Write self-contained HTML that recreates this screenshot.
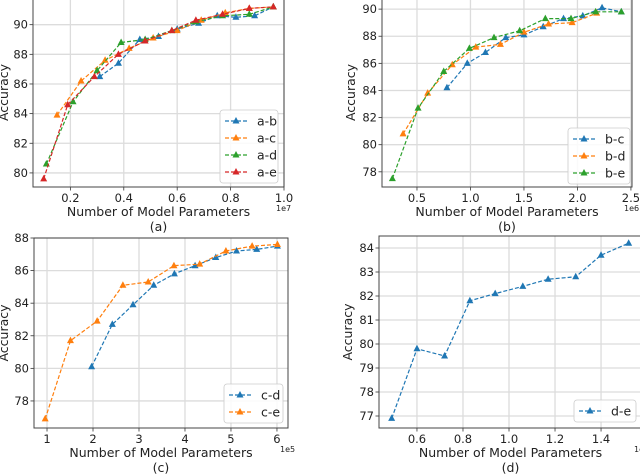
<!DOCTYPE html>
<html><head><meta charset="utf-8"><style>
html,body{margin:0;padding:0;background:#fff;}
svg{display:block;font-family:"DejaVu Sans","Liberation Sans",sans-serif;}
</style></head><body>
<svg id="c" width="640" height="475" viewBox="0 0 640 475" xmlns="http://www.w3.org/2000/svg"></svg>
<script>
// Panel (a) data (x in 1e7)
const aAbX=[0.31,0.38,0.46,0.53,0.60,0.68,0.75,0.82,0.89,0.96];
const aAbY=[86.5,87.4,89.0,89.2,89.7,90.1,90.6,90.5,90.6,91.2];
const aAcX=[0.15,0.24,0.33,0.42,0.51,0.60,0.69,0.78,0.87,0.96];
const aAcY=[83.9,86.2,87.6,88.4,89.1,89.6,90.3,90.8,91.1,91.2];
const aAdX=[0.11,0.21,0.30,0.39,0.48,0.58,0.67,0.77,0.87,0.96];
const aAdY=[80.6,84.8,86.9,88.8,89.0,89.6,90.2,90.6,90.7,91.2];
const aAeX=[0.10,0.19,0.29,0.38,0.48,0.58,0.67,0.77,0.87,0.96];
const aAeY=[79.6,84.6,86.5,88.0,88.9,89.6,90.3,90.7,91.1,91.2];
const aXTicks=[0.2,0.4,0.6,0.8,1.0];
const aYTicks=[80,82,84,86,88,90];
// Panel (b) data (x in 1e6)
const bBcX=[0.78,0.97,1.14,1.33,1.50,1.68,1.87,2.05,2.23,2.41];
const bBcY=[84.2,86.0,86.8,87.9,88.1,88.7,89.3,89.5,90.1,89.8];
const bBdX=[0.37,0.60,0.83,1.05,1.28,1.50,1.73,1.95,2.18];
const bBdY=[80.8,83.8,85.9,87.2,87.4,88.3,88.9,89.0,89.7];
const bBeX=[0.27,0.51,0.75,0.99,1.22,1.46,1.70,1.94,2.17,2.41];
const bBeY=[77.5,82.7,85.4,87.1,87.9,88.4,89.3,89.3,89.8,89.8];
const bXTicks=[0.5,1.0,1.5,2.0,2.5];
const bYTicks=[78,80,82,84,86,88,90];
// Panel (c) data (x in 1e5)
const cCdX=[1.97,2.42,2.87,3.32,3.77,4.22,4.67,5.12,5.56,6.01];
const cCdY=[80.1,82.7,83.9,85.1,85.8,86.3,86.8,87.2,87.3,87.5];
const cCeX=[0.96,1.51,2.09,2.65,3.20,3.76,4.32,4.89,5.46,6.01];
const cCeY=[76.9,81.7,82.9,85.1,85.3,86.3,86.4,87.2,87.5,87.6];
const cXTicks=[1,2,3,4,5,6];
const cYTicks=[78,80,82,84,86,88];
// Panel (d) data (x in 1e5)
const dDeX=[0.49,0.60,0.72,0.83,0.94,1.06,1.17,1.29,1.40,1.52];
const dDeY=[76.9,79.8,79.5,81.8,82.1,82.4,82.7,82.8,83.7,84.2];
const dXTicks=[0.6,0.8,1.0,1.2,1.4];
const dYTicks=[77,78,79,80,81,82,83,84];

const C={blue:'#1f77b4',orange:'#ff7f0e',green:'#2ca02c',red:'#d62728'};
const svg=document.getElementById('c');
const NS='http://www.w3.org/2000/svg';
function mk(tag,attrs,parent){const e=document.createElementNS(NS,tag);for(const k in attrs)e.setAttribute(k,attrs[k]);(parent||svg).appendChild(e);return e;}

function panel(p){
  const g=mk('g',{});
  
  
  const sx=v=>p.L+(v-p.x0)/(p.x1-p.x0)*(p.R-p.L);
  const sy=v=>p.B-(v-p.y0)/(p.y1-p.y0)*(p.B-p.T);
  // grid
  p.xt.forEach(t=>{const x=sx(t);mk('line',{x1:x,x2:x,y1:p.T,y2:p.B,stroke:'#dcdcdc','stroke-width':1.3},g);
    const l=mk('line',{x1:x,x2:x,y1:p.B,y2:p.B+3.5,stroke:'#333','stroke-width':0.8},g);
    const tx=mk('text',{x:x,y:p.B+15,'text-anchor':'middle','font-size':11.5,fill:'#222'},g);tx.textContent=p.xf(t);
    
    });
  p.yt.forEach(t=>{const y=sy(t);mk('line',{x1:p.L,x2:p.R,y1:y,y2:y,stroke:'#dcdcdc','stroke-width':1.3},g);
    mk('line',{x1:p.L-3.5,x2:p.L,y1:y,y2:y,stroke:'#333','stroke-width':0.8},g);
    const tx=mk('text',{x:p.L-5,y:y+4,'text-anchor':'end','font-size':11.5,fill:'#222'},g);tx.textContent=t;
    
    });
  // axes frame
  const fr=mk('rect',{x:p.L,y:p.T,width:p.R-p.L,height:p.B-p.T,fill:'none',stroke:'#444','stroke-width':1},g);
  
  
  // series
  p.series.forEach(s=>{
    const sg=mk('g',{},g);
    
    
    const pts=s.x.map((v,i)=>sx(v).toFixed(1)+','+sy(s.y[i]).toFixed(1)).join(' ');
    mk('polyline',{points:pts,fill:'none',stroke:s.c,'stroke-width':1.2,'stroke-dasharray':'4,2'},sg);
    s.x.forEach((v,i)=>{const x=sx(v),y=sy(s.y[i]);
      const m=mk('polygon',{points:`${x},${y-4} ${x-3.5},${y+2.5} ${x+3.5},${y+2.5}`,fill:s.c},sg);
      
      });
  });
  // labels
  const xl=mk('text',{x:(p.L+p.R)/2,y:p.B+29,'text-anchor':'middle','font-size':12.5,fill:'#222'},g);xl.textContent='Number of Model Parameters';
  
  
  const cap=mk('text',{x:(p.L+p.R)/2,y:p.B+44,'text-anchor':'middle','font-size':12.5,fill:'#222'},g);cap.textContent='('+p.id+')';
  
  
  const ex=mk('text',{x:p.R-8,y:p.B+24,'font-size':8,fill:'#222'},g);ex.textContent=p.exp;
  
  
  const yl=mk('text',{x:p.yl,y:(p.T+p.B)/2,'text-anchor':'middle','font-size':12.5,fill:'#222',transform:`rotate(-90 ${p.yl} ${(p.T+p.B)/2})`},g);yl.textContent='Accuracy';
  
  
  // legend
  const lg=mk('g',{},g);
  
  
  mk('rect',{x:p.lg[0],y:p.lg[1],width:p.lg[2],height:p.series.length*17+5,rx:3,fill:'#fff','fill-opacity':0.85,stroke:'#ccc','stroke-width':0.8},lg);
  p.series.forEach((s,i)=>{const y=p.lg[1]+11+i*17,x=p.lg[0]+5;
    const en=mk('g',{},lg);
    
    
    mk('line',{x1:x,x2:x+22,y1:y,y2:y,stroke:s.c,'stroke-width':1.2,'stroke-dasharray':'4,2'},en);
    mk('polygon',{points:`${x+11},${y-4} ${x+7.5},${y+2.5} ${x+14.5},${y+2.5}`,fill:s.c},en);
    const t=mk('text',{x:x+32,y:y+4.5,'font-size':12.5,fill:'#222'},en);t.textContent=s.name;});
}
const f1=v=>v.toFixed(1);
panel({id:'a',L:33,R:284,T:-2,B:187,x0:0.06,x1:1.0,y0:79.05,y1:91.8,xt:aXTicks,yt:aYTicks,xf:f1,exp:'1e7',yl:8,lg:[220,110,58],
  series:[{name:'a-b',x:aAbX,y:aAbY,c:C.blue},{name:'a-c',x:aAcX,y:aAcY,c:C.orange},{name:'a-d',x:aAdX,y:aAdY,c:C.green},{name:'a-e',x:aAeX,y:aAeY,c:C.red}]});
panel({id:'b',L:382,R:632,T:-2,B:187,x0:0.173,x1:2.51,y0:76.88,y1:90.82,xt:bXTicks,yt:bYTicks,xf:f1,exp:'1e6',yl:355,lg:[568,128,62],
  series:[{name:'b-c',x:bBcX,y:bBcY,c:C.blue},{name:'b-d',x:bBdX,y:bBdY,c:C.orange},{name:'b-e',x:bBeX,y:bBeY,c:C.green}]});
panel({id:'c',L:34,R:288,T:238,B:428,x0:0.717,x1:6.24,y0:76.34,y1:88.0,xt:cXTicks,yt:cYTicks,xf:v=>String(v),exp:'1e5',yl:8,lg:[224,384,59],
  series:[{name:'c-d',x:cCdX,y:cCdY,c:C.blue},{name:'c-e',x:cCeX,y:cCeY,c:C.orange}]});
panel({id:'d',L:379,R:642,T:236,B:428,x0:0.435,x1:1.578,y0:76.5,y1:84.5,xt:dXTicks,yt:dYTicks,xf:f1,exp:'1e5',yl:352,lg:[574,400,62],
  series:[{name:'d-e',x:dDeX,y:dDeY,c:C.blue}]});
</script>
</body></html>
